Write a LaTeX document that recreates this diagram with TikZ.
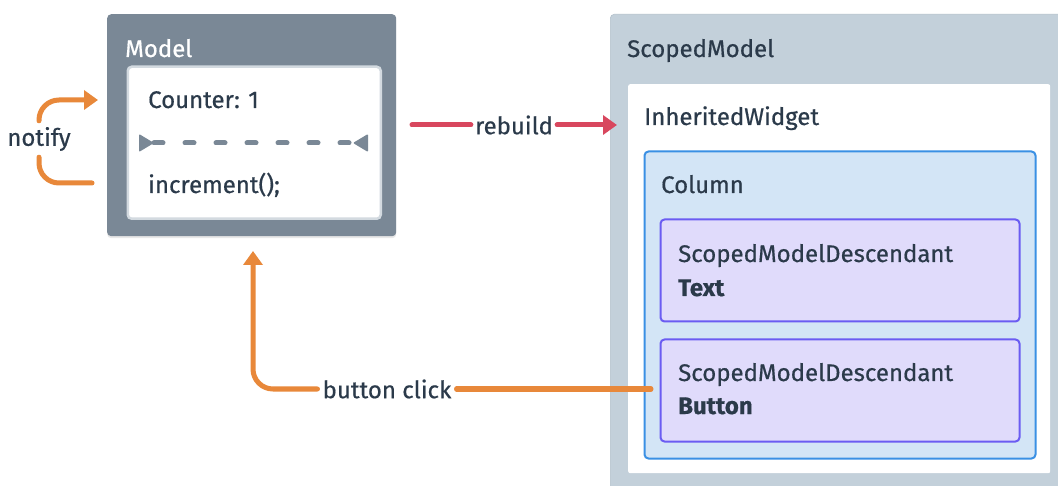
\documentclass[tikz,border=0pt]{standalone}
\usepackage{fontspec}
\setmainfont{Fira Sans}[FakeBold=0.6]
\usetikzlibrary{arrows.meta,shadows}
\definecolor{ink}{HTML}{2B3A4A}
\definecolor{slate}{HTML}{7A8896}
\definecolor{slateline}{HTML}{D3DAE0}
\definecolor{scopebg}{HTML}{C3D0DA}
\definecolor{scopeline}{HTML}{B3C0CB}
\definecolor{colbg}{HTML}{D3E5F6}
\definecolor{colline}{HTML}{3A90E4}
\definecolor{descbg}{HTML}{E0DBFB}
\definecolor{descline}{HTML}{6B5CF2}
\definecolor{flow}{HTML}{E8883A}
\definecolor{redflow}{HTML}{D8475E}
\tikzset{
  x=1pt, y=-1pt,
  txt/.style={text=ink, font=\fontsize{24}{28}\selectfont},
  box/.style={anchor=north west, inner sep=0pt, rounded corners=4pt},
  lbl/.style={txt, anchor=base west, inner sep=0pt},
  conn/.style={line width=5pt, line cap=round, rounded corners=20pt},
  tipflow/.style={-{Triangle[length=14pt,width=19pt]}},
  wedge/.style={fill=slate, rounded corners=1pt},
}
\begin{document}
\begin{tikzpicture}
\useasboundingbox[fill=white] (0,0) rectangle (1058,486);

% Model object with its state
\node[box, fill=slate, minimum width=289pt, minimum height=222pt,
      drop shadow={opacity=0.18, shadow xshift=0pt, shadow yshift=-2pt}] (model) at (107,14) {};
\node[lbl, text=white] (modeltitle) at (125,57) {Model};
\node[box, fill=white, draw=slateline, line width=2.5pt, minimum width=253pt, minimum height=152pt] (state) at (126.5,65.5) {};
\node[lbl] (counter) at (148,108) {Counter: 1};
\node[lbl] (incr) at (148,193) {increment();};
% separator: dashed rule between two inward-pointing wedges
\coordinate (dl) at (154,143);
\coordinate (dr) at (353,143);
\fill[wedge] (dl) -- ++(-15,-9) -- ++(0,18) -- cycle;
\fill[wedge] (dr) -- ++(15,-9) -- ++(0,18) -- cycle;
\draw[slate, line width=5pt, line cap=round, dash pattern=on 9pt off 22pt] (dl) -- (dr);

% Widget tree
\node[box, fill=scopebg, draw=scopeline, line width=0.6pt, minimum width=470pt, minimum height=490pt] (scoped) at (610,14) {};
\node[lbl] (scopedtitle) at (627,57) {ScopedModel};
\node[box, fill=white, minimum width=422pt, minimum height=389pt, rounded corners=2pt] (inherited) at (628,84) {};
\node[lbl] (inhtitle) at (644,125) {InheritedWidget};
\node[box, fill=colbg, draw=colline, line width=2pt, minimum width=391pt, minimum height=307pt] (column) at (643.5,150.5) {};
\node[lbl] (coltitle) at (661,193) {Column};
\node[box, fill=descbg, draw=descline, line width=2pt, minimum width=359pt, minimum height=102pt] (desctext) at (659.5,218.5) {};
\node[lbl] (dt1) at (678,262) {ScopedModelDescendant};
\node[lbl, font=\fontsize{24}{28}\selectfont\bfseries] (dt2) at (678,296) {Text};
\node[box, fill=descbg, draw=descline, line width=2pt, minimum width=359pt, minimum height=102pt] (descbtn) at (659.5,338.5) {};
\node[lbl] (db1) at (678,381) {ScopedModelDescendant};
\node[lbl, font=\fontsize{24}{28}\selectfont\bfseries] (db2) at (678,414) {Button};

% notify loop
\coordinate (nstart) at (92,183);
\coordinate (nend) at (98,100);
\node[txt, inner sep=0pt, minimum height=36pt] (notify) at (39,139) {notify};
\draw[flow, conn] (nstart) -| (notify.south);
\draw[flow, conn, tipflow] (notify.north) |- (nend);

% rebuild
\coordinate (rstart) at (412,125);
\coordinate (rend) at (617,125);
\node[txt, inner xsep=4pt, inner ysep=0pt] (rebuild) at (514,125) {rebuild};
\draw[redflow, conn] (rstart) -- (rebuild.west);
\draw[redflow, conn, tipflow] (rebuild.east) -- (rend);

% button click
\coordinate (bstart) at (651,389);
\coordinate (bend) at (253,251);
\node[txt, inner xsep=5pt, inner ysep=0pt] (click) at (387,389) {button click};
\draw[flow, conn] (bstart) -- (click.east);
\draw[flow, conn, tipflow] (click.west) -| (bend);
\end{tikzpicture}
\end{document}
